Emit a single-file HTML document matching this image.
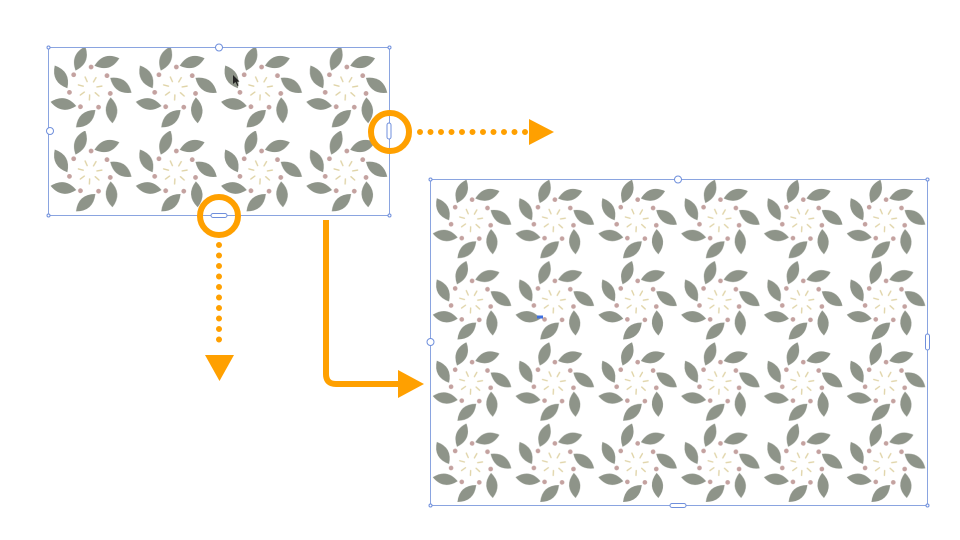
<!DOCTYPE html>
<html><head><meta charset="utf-8"><style>html,body{margin:0;padding:0;background:#fff}svg{display:block}</style></head>
<body>
<svg width="960" height="540" viewBox="0 0 960 540" xmlns="http://www.w3.org/2000/svg">
<defs>
<path id="lf" d="M-13,0 Q0,-11.5 13,0 Q0,11.5 -13,0 Z"/>
<g id="fl">
  <g fill="#8e9489">
    <use href="#lf" transform="rotate(-108) translate(31,0) rotate(40)"/>
    <use href="#lf" transform="rotate(-57) translate(31,0) rotate(40)"/>
    <use href="#lf" transform="rotate(-5) translate(31,0) rotate(40)"/>
    <use href="#lf" transform="rotate(46) translate(31,0) rotate(40)"/>
    <use href="#lf" transform="rotate(98) translate(31,0) rotate(40)"/>
    <use href="#lf" transform="rotate(149) translate(31,0) rotate(40)"/>
    <use href="#lf" transform="rotate(201) translate(31,0) rotate(40)"/>
  </g>
  <g fill="#c4a2a0">
    <circle r="2.4" transform="rotate(-87) translate(21,0)"/>
    <circle r="2.4" transform="rotate(-36) translate(21,0)"/>
    <circle r="2.4" transform="rotate(15) translate(21,0)"/>
    <circle r="2.4" transform="rotate(66) translate(21,0)"/>
    <circle r="2.4" transform="rotate(117) translate(21,0)"/>
    <circle r="2.4" transform="rotate(168) translate(21,0)"/>
    <circle r="2.4" transform="rotate(219) translate(21,0)"/>
  </g>
  <g stroke="#e0d4a8" stroke-width="1.4" stroke-linecap="round">
    <line x1="7" y1="0" x2="12" y2="0" transform="rotate(-60)"/>
    <line x1="7" y1="0" x2="12" y2="0" transform="rotate(-9)"/>
    <line x1="7" y1="0" x2="12" y2="0" transform="rotate(42)"/>
    <line x1="7" y1="0" x2="12" y2="0" transform="rotate(93)"/>
    <line x1="7" y1="0" x2="12" y2="0" transform="rotate(144)"/>
    <line x1="7" y1="0" x2="12" y2="0" transform="rotate(195)"/>
    <line x1="7" y1="0" x2="12" y2="0" transform="rotate(246)"/>
  </g>
</g>
<pattern id="p1" patternUnits="userSpaceOnUse" x="48" y="47" width="85.25" height="84">
  <use href="#fl" transform="translate(42,41)"/>
</pattern>
<pattern id="p2" patternUnits="userSpaceOnUse" x="430" y="180" width="82.8" height="81.25">
  <use href="#fl" transform="translate(41,40) scale(0.97)"/>
</pattern>
</defs>

<rect x="48" y="47" width="341" height="168" fill="url(#p1)"/>
<rect x="48.5" y="47.5" width="341" height="168" fill="none" stroke="#8aa4e0" stroke-width="1"/>
<g fill="#fff" stroke="#6f8fdc" stroke-width="1">
  <circle cx="48.5" cy="47.5" r="1.5"/><circle cx="389.5" cy="47.5" r="1.5"/>
  <circle cx="48.5" cy="215.5" r="1.5"/><circle cx="389.5" cy="215.5" r="1.5"/>
  <circle cx="219" cy="47.5" r="3.5"/><circle cx="50" cy="131" r="3.5"/>
  <rect x="387" y="123" width="4" height="16" rx="2"/>
  <rect x="211" y="213.5" width="16" height="4" rx="2"/>
</g>
<path d="M233 75 L233 84 L235.5 82 L237.5 86 L238.5 85.5 L236.8 81.8 L239.5 81.5 Z" fill="#222"/>

<rect x="430" y="180" width="497" height="325" fill="url(#p2)"/>
<rect x="430.5" y="179.5" width="497" height="326" fill="none" stroke="#8aa4e0" stroke-width="1"/>
<g fill="#fff" stroke="#6f8fdc" stroke-width="1">
  <circle cx="430.5" cy="179.5" r="1.5"/><circle cx="927.5" cy="179.5" r="1.5"/>
  <circle cx="430.5" cy="505.5" r="1.5"/><circle cx="927.5" cy="505.5" r="1.5"/>
  <circle cx="678" cy="179.5" r="3.5"/><circle cx="430.5" cy="342" r="3.5"/>
  <rect x="925.5" y="334" width="4" height="16" rx="2"/>
  <rect x="670" y="503.5" width="16" height="4" rx="2"/>
</g>
<rect x="537" y="315.5" width="6" height="3" fill="#3d6fe0"/>

<g fill="none" stroke="#ffa000">
  <circle cx="390" cy="132" r="19" stroke-width="6"/>
  <circle cx="219" cy="216" r="19" stroke-width="6"/>
  <line x1="420" y1="132" x2="528" y2="132" stroke-width="6" stroke-linecap="round" stroke-dasharray="0 10.5"/>
  <line x1="219" y1="245" x2="219" y2="350" stroke-width="6" stroke-linecap="round" stroke-dasharray="0 10.5"/>
  <path d="M326 220 L326 374 Q326 384 336 384 L402 384" stroke-width="6"/>
</g>
<g fill="#ffa000">
  <polygon points="529,119 554,132 529,145"/>
  <polygon points="205,355 234,355 219.5,381"/>
  <polygon points="398,370 424,384 398,398"/>
</g>
</svg>
</body></html>
